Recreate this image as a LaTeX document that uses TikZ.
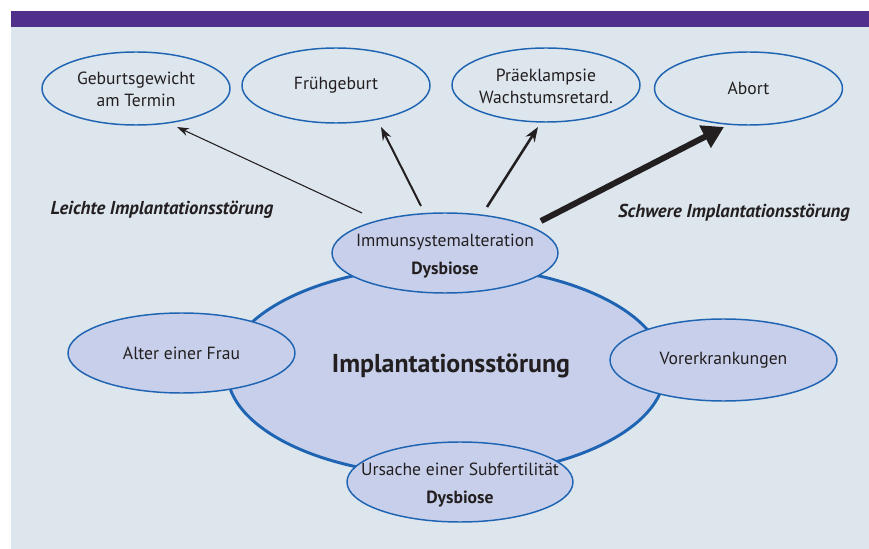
\documentclass[tikz,border=0pt]{standalone}
\usepackage{fontspec}
\setmainfont{PT Sans}
\usetikzlibrary{shapes.geometric,arrows.meta}
\definecolor{bgc}{HTML}{DDE5ED}
\definecolor{barc}{HTML}{51308C}
\definecolor{edgec}{HTML}{1F64B2}
\definecolor{fillc}{HTML}{C7CFEA}
\definecolor{txtc}{HTML}{231F20}
\tikzset{
  ell/.style={ellipse, draw=edgec, line width=1.1pt, inner sep=0pt},
  ltxt/.style={text=txtc, align=center, inner sep=0pt, font=\fontsize{13.2}{16.5}\selectfont},
  topell/.style={ell, fill=bgc, minimum width=188*0.75pt, minimum height=73*0.75pt},
  midell/.style={ell, fill=fillc, minimum width=226*0.75pt, minimum height=80*0.75pt},
  arr/.style={draw=txtc, color=txtc},
  lbl/.style={text=txtc, font=\fontsize{14}{16}\selectfont\bfseries\itshape}
}
\begin{document}
\begin{tikzpicture}[x=0.75pt,y=-0.75pt]
\useasboundingbox (0,0) rectangle (869,549);
\fill[white] (0,0) rectangle (869,549);
\fill[bgc] (11,27) rectangle (869,549);
\fill[barc] (11,11) rectangle (869,27);
% big ellipse
\node[ell, fill=fillc, line width=2.2pt, minimum width=438*0.75pt, minimum height=210*0.75pt] (impl) at (446,371) {};
\node[text=txtc, font=\fontsize{19.4}{24}\selectfont\bfseries] (impltxt) at (451,366) {Implantationsstörung};
% top ellipses
\node[topell] (geb) at (136,88.5) {};
\node[ltxt] (gebt) at (136,89) {Geburtsgewicht\\am Termin};
\node[topell, minimum height=75*0.75pt] (frueh) at (336,85.5) {};
\node[ltxt] (fruehft) at (336,85) {Frühgeburt};
\node[topell, minimum height=74*0.75pt] (prae) at (546,85) {};
\node[ltxt] (praet) at (546,86) {Präeklampsie\\Wachstumsretard.};
\node[topell] (abort) at (748.5,88.5) {};
\node[ltxt] (abortt) at (748.5,88) {Abort};
% mid ellipses
\node[midell] (imm) at (445,253) {};
\node[ltxt, font=\fontsize{13.2}{21}\selectfont] (immt) at (445,256) {Immunsystemalteration\\\textbf{Dysbiose}};
\node[midell, minimum width=227*0.75pt] (alter) at (181.5,353) {};
\node[ltxt] (altert) at (181.5,353) {Alter einer Frau};
\node[midell, minimum width=227*0.75pt, minimum height=82*0.75pt] (vor) at (723.5,360) {};
\node[ltxt] (vort) at (723.5,360) {Vorerkrankungen};
\node[midell] (urs) at (460,482) {};
\node[ltxt, font=\fontsize{13.2}{21}\selectfont] (urst) at (460,485) {Ursache einer Subfertilität\\\textbf{Dysbiose}};
% arrow coordinates
\coordinate (s1) at (362,213);
\coordinate (e1) at (177,127);
\coordinate (s2) at (421,206);
\coordinate (e2) at (381,127);
\coordinate (s3) at (487,207);
\coordinate (e3) at (538,127);
\coordinate (s4) at (541,221);
\coordinate (e4) at (724,127);
\draw[arr, line width=0.8pt, -{Stealth[length=9pt,width=6pt]}] (s1) -- (e1);
\draw[arr, line width=1.5pt, -{Stealth[length=10pt,width=7pt]}] (s2) -- (e2);
\draw[arr, line width=1.9pt, -{Stealth[length=11pt,width=8pt]}] (s3) -- (e3);
\draw[arr, line width=4.5pt, -{Triangle[length=16pt,width=18pt]}] (s4) -- (e4);
% labels
\node[lbl] (leicht) at (162,210) {Leichte Implantationsstörung};
\node[lbl] (schwer) at (734,213) {Schwere Implantationsstörung};
\end{tikzpicture}
\end{document}
